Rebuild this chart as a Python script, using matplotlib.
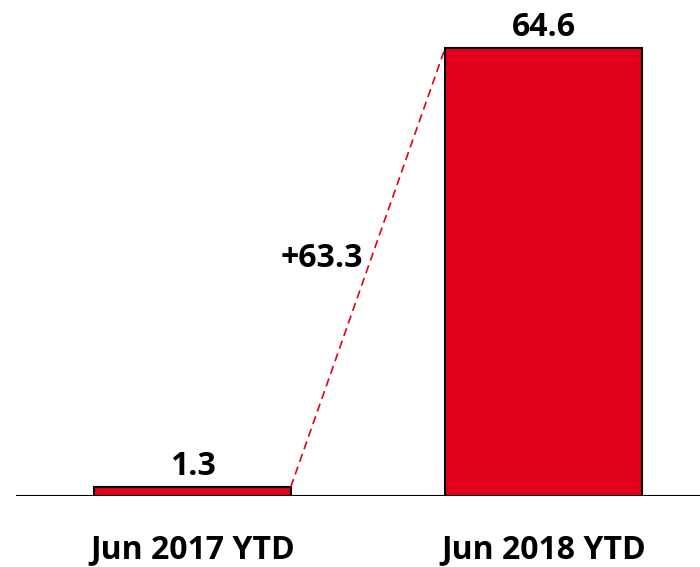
import matplotlib
matplotlib.use("Agg")
import matplotlib.pyplot as plt

categories = ["Jun 2017 YTD", "Jun 2018 YTD"]
values = [1.3, 64.6]
delta_label = "+63.3"

red = "#E2001A"
width = 0.56

fig = plt.figure(figsize=(7, 5.67), dpi=100)
ax = fig.add_axes([16 / 700, 71 / 567, 684 / 700, 485 / 567])

x = [0, 1]
ax.bar(x, values, width=width, color=red, edgecolor="black", linewidth=1.5, zorder=2)

# dashed connector between bar tops
ax.plot([x[0] + width / 2, x[1] - width / 2], [values[0], values[1]],
        color=red, linestyle=(0, (5, 3)), linewidth=1.2, zorder=3)

font = dict(family=["Open Sans", "DejaVu Sans"], fontweight="bold", fontsize=23)
for xi, v in zip(x, values):
    ax.text(xi, v + 0.6, f"{v:.1f}", ha="center", va="bottom", **font)

ax.text(0.5 - 0.015, (values[0] + values[1]) / 2 + 1.3, delta_label,
        ha="right", va="center", **font)

ax.axhline(0, color="black", linewidth=1.5, zorder=4)

ax.set_xlim(-0.503, 1.446)
ax.set_ylim(0, 69.9)
ax.set_xticks(x)
ax.set_xticklabels(categories, **font)
ax.tick_params(axis="x", length=0, pad=27)
ax.set_yticks([])
for s in ax.spines.values():
    s.set_visible(False)

fig.savefig("out.png", dpi=100)
